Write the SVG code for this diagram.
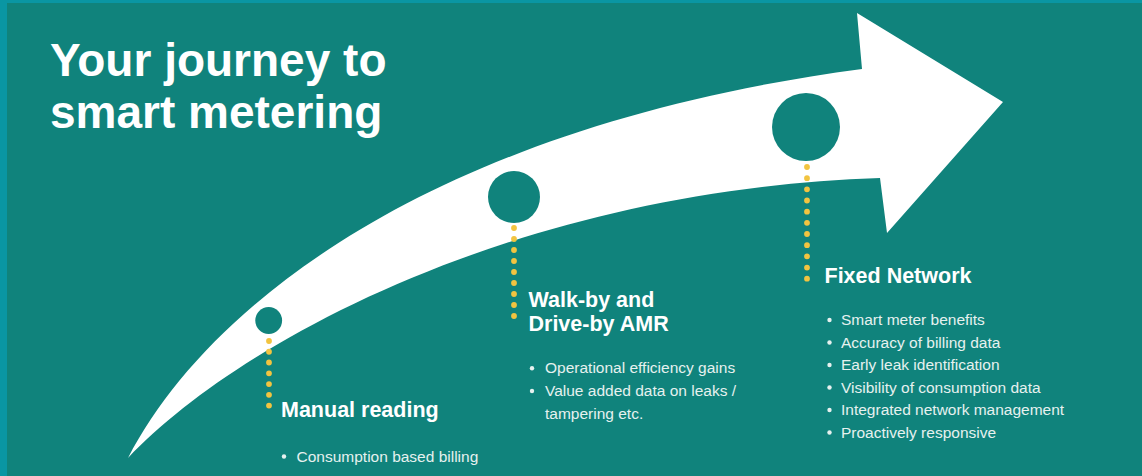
<svg xmlns="http://www.w3.org/2000/svg" width="1142" height="476" viewBox="0 0 1142 476">
  <style>
    .title { font-family: "Liberation Sans", Arial, sans-serif; font-weight: bold; font-size: 46px; fill: #ffffff; }
    .head { font-family: "Liberation Sans", Arial, sans-serif; font-weight: bold; font-size: 21.5px; fill: #ffffff; }
    .item { font-family: "Liberation Sans", Arial, sans-serif; font-size: 15.5px; fill: #e6f1ef; }
    .dot { fill: #e6f1ef; }
    .hole { fill: #10837c; }
    .conn { stroke: #f2c440; stroke-width: 5.8; stroke-linecap: round; fill: none; }
  </style>
  <g id="background">
    <rect x="0" y="0" width="1142" height="476" fill="#0a96a3"/>
    <rect x="7" y="3" width="1135" height="473" fill="#10837c"/>
  </g>
  <g id="title">
    <text class="title" x="50" y="76">Your journey to</text>
    <text class="title" x="50" y="128">smart metering</text>
  </g>
  <g id="arrow">
    <path fill="#ffffff" d="M128,458 C210,300 440,125 862,69 L857,13 L1003,102 L887,233 L880,178 C520,190 240,340 128,458 Z"/>
  </g>
  <g id="connectors">
    <line class="conn" x1="269" y1="341" x2="269" y2="416.3" stroke-dasharray="0 10.76"/>
    <line class="conn" x1="514" y1="228" x2="514" y2="327" stroke-dasharray="0 11"/>
    <line class="conn" x1="807" y1="167" x2="807" y2="278.7" stroke-dasharray="0 11.17"/>
  </g>
  <g id="stage-manual">
    <circle class="hole" cx="268.7" cy="320.5" r="13.4"/>
    <text class="head" x="281" y="417">Manual reading</text>
    <circle class="dot" cx="284" cy="456.5" r="2.2"/>
    <text class="item" x="296.5" y="461.5">Consumption based billing</text>
  </g>
  <g id="stage-walkby">
    <circle class="hole" cx="514" cy="197" r="26"/>
    <text class="head" x="528.5" y="306.7">Walk-by and</text>
    <text class="head" x="528.5" y="330.7">Drive-by AMR</text>
    <circle class="dot" cx="532" cy="368.3" r="2.2"/>
    <text class="item" x="545" y="373.3">Operational efficiency gains</text>
    <circle class="dot" cx="532" cy="391" r="2.2"/>
    <text class="item" x="545" y="396">Value added data on leaks /</text>
    <text class="item" x="545" y="418.5">tampering etc.</text>
  </g>
  <g id="stage-fixed">
    <circle class="hole" cx="806" cy="127" r="34"/>
    <text class="head" x="824.5" y="282.7">Fixed Network</text>
    <circle class="dot" cx="829.5" cy="320" r="2.2"/>
    <text class="item" x="841" y="325">Smart meter benefits</text>
    <circle class="dot" cx="829.5" cy="342.5" r="2.2"/>
    <text class="item" x="841" y="347.5">Accuracy of billing data</text>
    <circle class="dot" cx="829.5" cy="365" r="2.2"/>
    <text class="item" x="841" y="370">Early leak identification</text>
    <circle class="dot" cx="829.5" cy="387.5" r="2.2"/>
    <text class="item" x="841" y="392.5">Visibility of consumption data</text>
    <circle class="dot" cx="829.5" cy="410" r="2.2"/>
    <text class="item" x="841" y="415">Integrated network management</text>
    <circle class="dot" cx="829.5" cy="432.5" r="2.2"/>
    <text class="item" x="841" y="437.5">Proactively responsive</text>
  </g>
</svg>
